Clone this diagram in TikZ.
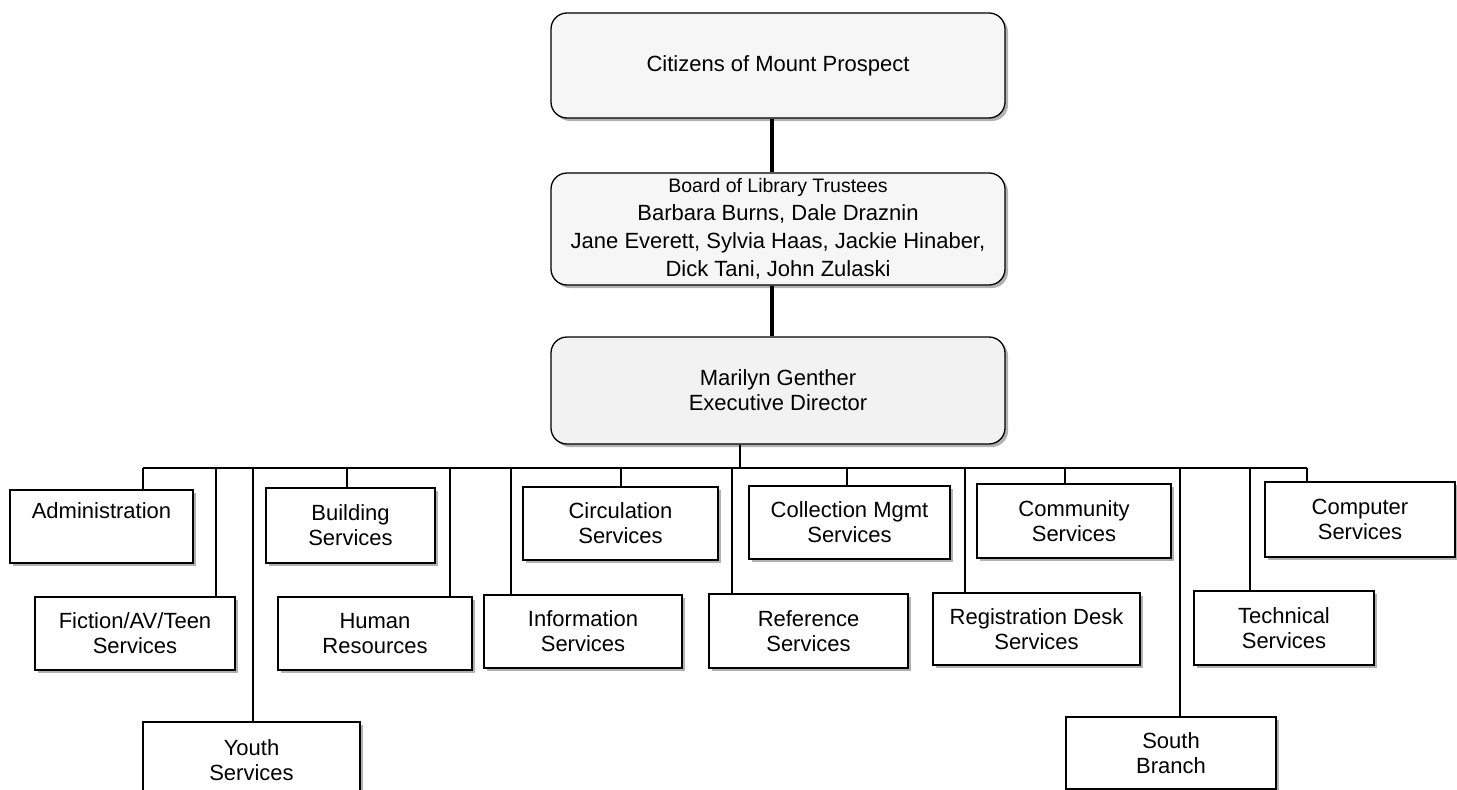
\documentclass[tikz,border=0pt]{standalone}
\usepackage{fontspec}
\setmainfont{Liberation Sans}
\usetikzlibrary{shadows}
\begin{document}
\begin{tikzpicture}[x=1pt,y=-1pt,
  dept/.style={draw, line width=1.3pt, fill=white, inner sep=0pt, align=center,
    font=\fontsize{22}{25}\selectfont,
    drop shadow={shadow xshift=3pt, shadow yshift=-3pt, fill=gray!60, opacity=1}},
  topbox/.style={dept, rounded corners=16pt, fill=gray!7, minimum width=454pt},
  link/.style={line width=1.1pt},
  trunk/.style={line width=3.5pt}]
\useasboundingbox (0,0) rectangle (1457,790);

% top chain
\node[topbox, minimum height=105pt] (cit) at (778,65.5) {Citizens of Mount Prospect};
\node[topbox, minimum height=112pt, font=\fontsize{22}{28}\selectfont] (board) at (778,229)
  {{\fontsize{19.5}{28}\selectfont Board of Library Trustees}\\
   Barbara Burns, Dale Draznin\\
   Jane Everett, Sylvia Haas, Jackie Hinaber,\\
   Dick Tani, John Zulaski};
\node[topbox, minimum height=107pt, fill=gray!10] (dir) at (778,390.5) {Marilyn Genther\\Executive Director};

% departments
\node[dept, minimum width=183pt, minimum height=73pt] (adm) at (101.5,526.5) {Administration\\\strut};
\node[dept, minimum width=200pt, minimum height=73pt] (fic) at (135,633.5) {Fiction/AV/Teen\\Services};
\node[dept, minimum width=217pt, minimum height=76pt] (youth) at (251.5,760) {Youth\\Services};
\node[dept, minimum width=169pt, minimum height=75pt] (bld) at (350.5,525.5) {Building\\Services};
\node[dept, minimum width=194pt, minimum height=73pt] (hr) at (375,633.5) {Human\\Resources};
\node[dept, minimum width=198pt, minimum height=73pt] (info) at (583,631.5) {Information\\Services};
\node[dept, minimum width=195pt, minimum height=73pt] (circ) at (620.5,523.5) {Circulation\\Services};
\node[dept, minimum width=199pt, minimum height=74pt] (ref) at (808.5,631) {Reference\\Services};
\node[dept, minimum width=201pt, minimum height=73pt] (coll) at (849.5,522.5) {Collection Mgmt\\Services};
\node[dept, minimum width=207pt, minimum height=72pt] (reg) at (1036.5,629) {Registration Desk\\Services};
\node[dept, minimum width=194pt, minimum height=74pt] (comm) at (1074,521) {Community\\Services};
\node[dept, minimum width=210pt, minimum height=72pt] (south) at (1171,753) {South\\Branch};
\node[dept, minimum width=180pt, minimum height=74pt] (tech) at (1284,628) {Technical\\Services};
\node[dept, minimum width=190pt, minimum height=75pt] (comp) at (1360,519.5) {Computer\\Services};

% trunk connectors
\coordinate (k) at (772,0);
\draw[trunk] (k |- cit.south) -- (k |- board.north);
\draw[trunk] (k |- board.south) -- (k |- dir.north);

% bus
\coordinate (d) at (740,468);
\draw[link] (d |- dir.south) -- (d);
\coordinate (t1) at (143,468);
\coordinate (t2) at (216,468);
\coordinate (t3) at (253,468);
\coordinate (t4) at (347,468);
\coordinate (t5) at (450,468);
\coordinate (t6) at (511,468);
\coordinate (t7) at (621,468);
\coordinate (t8) at (732,468);
\coordinate (t9) at (847,468);
\coordinate (t10) at (965,468);
\coordinate (t11) at (1065,468);
\coordinate (t12) at (1180,468);
\coordinate (t13) at (1250,468);
\coordinate (t14) at (1307,468);
\draw[link] (t1) -- (t14);
\draw[link] (t1) -- (t1 |- adm.north);
\draw[link] (t2) -- (t2 |- fic.north);
\draw[link] (t3) -- (t3 |- youth.north);
\draw[link] (t4) -- (t4 |- bld.north);
\draw[link] (t5) -- (t5 |- hr.north);
\draw[link] (t6) -- (t6 |- info.north);
\draw[link] (t7) -- (t7 |- circ.north);
\draw[link] (t8) -- (t8 |- ref.north);
\draw[link] (t9) -- (t9 |- coll.north);
\draw[link] (t10) -- (t10 |- reg.north);
\draw[link] (t11) -- (t11 |- comm.north);
\draw[link] (t12) -- (t12 |- south.north);
\draw[link] (t13) -- (t13 |- tech.north);
\draw[link] (t14) -- (t14 |- comp.north);
\end{tikzpicture}
\end{document}
